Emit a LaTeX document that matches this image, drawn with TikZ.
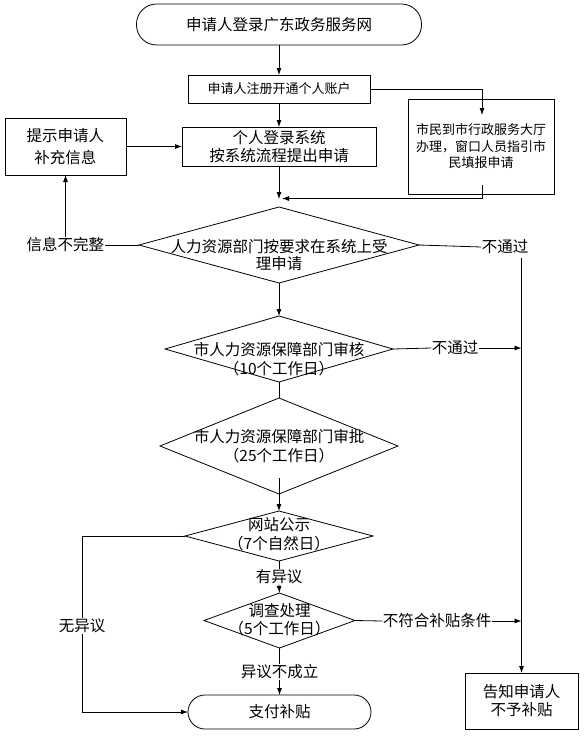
\documentclass[tikz,border=0pt]{standalone}
\usepackage{fontspec}
\setmainfont{Noto Sans CJK SC}
\usetikzlibrary{shapes.geometric,arrows.meta}
\begin{document}
\begin{tikzpicture}[x=1pt,y=-1pt,
  every node/.style={font=\fontsize{15.5}{19}\selectfont, inner sep=0pt, outer sep=0pt},
  line/.style={line width=0.8pt},
  arr/.style={line width=0.8pt,-{Latex[length=7pt,width=5pt]}},
  box/.style={draw,line width=0.8pt,align=center},
  pill/.style={draw,line width=0.8pt,align=center},
  dia/.style={draw,diamond,line width=0.8pt},
  dtext/.style={align=center},
  lbl/.style={fill=white,inner sep=0.5pt}]
\useasboundingbox (0,0) rectangle (586,737);

% main column
\node[pill, minimum width=285pt, minimum height=41pt, rounded corners=20pt] (start) at (279,24.5) {申请人登录广东政务服务网};
\node[box, minimum width=182pt, minimum height=28pt, font=\fontsize{13}{16}\selectfont] (reg) at (279,89) {申请人注册开通个人账户};
\node[box, minimum width=194pt, minimum height=39pt, font=\fontsize{15.5}{18}\selectfont] (sub) at (279,146.5) {个人登录系统\\按系统流程提出申请};
\node[box, minimum width=121pt, minimum height=57pt, font=\fontsize{15.5}{22}\selectfont] (tip) at (65.5,146.5) {提示申请人\\补充信息};
\node[box, minimum width=146pt, minimum height=95pt, font=\fontsize{13}{16.5}\selectfont] (hall) at (481,146.5) {市民到市行政服务大厅\\办理，窗口人员指引市\\民填报申请};

\node[dia, minimum width=280pt, minimum height=76pt] (d1) at (279,245) {};
\node[dtext, font=\fontsize{15.5}{17}\selectfont] (d1t) at (279,255) {人力资源部门按要求在系统上受\\理申请};
\node[dia, minimum width=228pt, minimum height=66pt] (d2) at (279,349) {};
\node[dtext] (d2t) at (279,359.5) {市人力资源保障部门审核\\（10个工作日）};
\node[dia, minimum width=238pt, minimum height=96pt] (d3) at (279,446) {};
\node[dtext] (d3t) at (279,446.5) {市人力资源保障部门审批\\（25个工作日）};
\node[dia, minimum width=188pt, minimum height=50pt] (d4) at (279,536) {};
\node[dtext] (d4t) at (279,534.5) {网站公示\\（7个自然日）};
\node[dia, minimum width=151pt, minimum height=55pt] (d5) at (279.5,620.5) {};
\node[dtext, font=\fontsize{15.5}{18}\selectfont] (d5t) at (279.5,620) {调查处理\\（5个工作日）};
\node[pill, minimum width=183pt, minimum height=34pt, rounded corners=17pt] (pay) at (279.5,712) {支付补贴};
\node[box, minimum width=113pt, minimum height=56pt, font=\fontsize{15.5}{18}\selectfont] (no) at (521.5,701) {告知申请人\\不予补贴};

% labels
\node[lbl] (l1) at (65.5,245) {信息不完整};
\node[lbl] (l2) at (505,247) {不通过};
\node[lbl] (l3) at (455,348) {不通过};
\node[lbl] (l4) at (279,577) {有异议};
\node[lbl] (l6) at (437,621) {不符合补贴条件};
\node[lbl] (l7) at (279.5,672) {异议不成立};

% free ends
\coordinate (c1) at (482,115);
\coordinate (c2) at (482,185);
\coordinate (j) at (279,199);
\coordinate (jr) at (282,198.5);
\coordinate (r1) at (521.5,258);
\coordinate (r2) at (521.5,348);
\coordinate (r3) at (521.5,621);
\coordinate (c3) at (279,478);
\coordinate (nw) at (82,712);

% connectors
\draw[arr] (start.south) -- (reg.north);
\draw[arr] (reg.east) -| (c1);
\draw[arr] (reg.south) -- (sub.north);
\draw[arr] (sub.south) -- (j);
\draw[arr] (c2) |- (jr);
\draw[line] (d1.west) -- (l1.east);
\draw[arr] (l1.north) -- (tip.south);
\draw[arr] (tip.east) -- (sub.west);
\draw[line] (d1.east) -- (l2.west);
\draw[arr] (r1) -- (no.north);
\draw[arr] (d1.south) -- (d2.north);
\draw[line] (d2.east) -- (l3.west);
\draw[arr] (l3.east) -- (r2);
\draw[line] (d2.south) -- (d3.north);
\draw[arr] (c3) -- (d4.north);
\draw[arr] (d4.west) -| (nw) -- (pay.west);
\draw[line] (d4.south) -- (l4.north);
\draw[arr] (l4.south) -- (d5.north);
\draw[line] (d5.east) -- (l6.west);
\draw[arr] (l6.east) -- (r3);
\draw[line] (d5.south) -- (l7.north);
\draw[arr] (l7.south) -- (pay.north);

\node[lbl] (l5) at (82,626) {无异议};
\end{tikzpicture}
\end{document}
